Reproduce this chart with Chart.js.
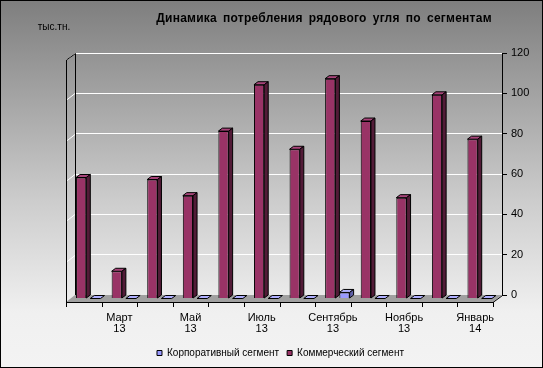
<!DOCTYPE html>
<html>
<head>
<meta charset="utf-8">
<script src="https://cdn.jsdelivr.net/npm/chart.js@4.4.1/dist/chart.umd.min.js"></script>
<style>
  html, body { margin: 0; padding: 0; background: #fff; }
  #wrap { width: 543px; height: 368px; }
</style>
</head>
<body>
<div id="wrap"><canvas id="coal" width="543" height="368"></canvas></div>
<script>
// ---- data ----
const categories = [
  ["Февраль", "13"], ["Март", "13"], ["Апрель", "13"], ["Май", "13"],
  ["Июнь", "13"], ["Июль", "13"], ["Август", "13"], ["Сентябрь", "13"],
  ["Октябрь", "13"], ["Ноябрь", "13"], ["Декабрь", "13"], ["Январь", "14"]
];
const corporate = [0, 0, 0, 0, 0, 0, 0, 3, 0, 0, 0, 0];
const commercial = [60, 13.5, 59, 51, 83, 106, 74, 109, 88, 50, 101, 79];
const yTicks = [0, 20, 40, 60, 80, 100, 120];

const FONT = "'Liberation Sans', Arial, sans-serif";
const WALL_DX = 9, WALL_DY = 7;     // depth of the 3d walls
const BAR_DX = 4, BAR_DY = 3;       // depth of each column
const faces = {
  "#993366": { top: "#a8447a", side: "#521b37" },
  "#9999ff": { top: "#b0b0ff", side: "#5f5fa8" }
};

// background, walls, floor and the 3d faces of the columns
const excel3d = {
  id: "excel3d",
  beforeDraw(chart) {
    const { ctx, width, height } = chart;
    const g = ctx.createLinearGradient(0, 0, 0, height);
    g.addColorStop(0, "#7e7e7e");
    g.addColorStop(0.55, "#cdcdcd");
    g.addColorStop(0.85, "#f0f0f0");
    g.addColorStop(1, "#f3f3f3");
    ctx.save();
    ctx.fillStyle = g;
    ctx.fillRect(0, 0, width, height);
    ctx.restore();
  },
  beforeDatasetsDraw(chart) {
    const { ctx, chartArea: a, scales } = chart;
    const y = scales.y;
    ctx.save();
    // grid lines on the left wall
    ctx.strokeStyle = "#ffffff";
    ctx.lineWidth = 1;
    yTicks.forEach(v => {
      const py = Math.round(y.getPixelForValue(v)) + 0.5;
      ctx.beginPath();
      ctx.moveTo(a.left, py);
      ctx.lineTo(a.left - WALL_DX, py + WALL_DY);
      ctx.stroke();
    });
    // floor
    const fb = a.bottom + WALL_DY;
    ctx.fillStyle = "#a0a0a0";
    ctx.beginPath();
    ctx.moveTo(a.left - WALL_DX, fb);
    ctx.lineTo(a.right - WALL_DX, fb);
    ctx.lineTo(a.right, a.bottom);
    ctx.lineTo(a.left, a.bottom);
    ctx.closePath();
    ctx.fill();
    ctx.strokeStyle = "#000";
    ctx.beginPath();
    ctx.moveTo(a.left - WALL_DX + 0.5, fb + 0.5);
    ctx.lineTo(a.right - WALL_DX, fb + 0.5);
    ctx.lineTo(a.right + 0.5, a.bottom + 0.5);
    ctx.stroke();
    // left wall edges
    ctx.beginPath();
    ctx.moveTo(a.left - WALL_DX + 0.5, fb + 5);
    ctx.lineTo(a.left - WALL_DX + 0.5, a.top + WALL_DY);
    ctx.lineTo(a.left + 0.5, a.top + 0.5);
    ctx.lineTo(a.left + 0.5, a.bottom);
    ctx.stroke();
    // category tick marks on the front edge of the floor
    const n = categories.length;
    const step = (a.right - a.left) / n;
    for (let i = 0; i <= n; i++) {
      const px = Math.round(a.left + i * step - WALL_DX) + 0.5;
      ctx.beginPath();
      ctx.moveTo(px, fb);
      ctx.lineTo(px, fb + 5);
      ctx.stroke();
    }
    ctx.restore();
    // columns stand in the middle of the floor depth
    ctx.save();
    ctx.translate(-WALL_DX / 2, WALL_DY / 2);
  },
  afterDatasetsDraw(chart) {
    const { ctx } = chart;
    ctx.lineWidth = 1;
    ctx.strokeStyle = "#000";
    chart.data.datasets.forEach((ds, di) => {
      const f = faces[ds.backgroundColor];
      chart.getDatasetMeta(di).data.forEach(el => {
        const { x, y, base, width } = el.getProps(["x", "y", "base", "width"], true);
        const l = x - width / 2, r = x + width / 2;
        const t = Math.min(y, base), b = base;
        ctx.fillStyle = f.top;
        ctx.beginPath();
        ctx.moveTo(l, t);
        ctx.lineTo(l + BAR_DX, t - BAR_DY);
        ctx.lineTo(r + BAR_DX, t - BAR_DY);
        ctx.lineTo(r, t);
        ctx.closePath();
        ctx.fill();
        ctx.stroke();
        if (b - t > 0.5) {
          ctx.fillStyle = f.side;
          ctx.beginPath();
          ctx.moveTo(r, t);
          ctx.lineTo(r + BAR_DX, t - BAR_DY);
          ctx.lineTo(r + BAR_DX, b - BAR_DY);
          ctx.lineTo(r, b);
          ctx.closePath();
          ctx.fill();
          ctx.stroke();
        }
      });
    });
    ctx.restore();
  },
  afterDraw(chart) {
    const { ctx, width, height } = chart;
    ctx.save();
    ctx.fillStyle = "#000";
    ctx.textBaseline = "middle";
    ctx.textAlign = "center";
    ctx.font = "bold 12px " + FONT;
    ctx.letterSpacing = "0.25px";
    ctx.wordSpacing = "2.5px";
    ctx.fillText("Динамика потребления рядового угля по сегментам", 324, 19);
    ctx.letterSpacing = "0px";
    ctx.wordSpacing = "0px";
    ctx.font = "10px " + FONT;
    ctx.fillText("тыс.тн.", 54, 27);
    ctx.strokeStyle = "#000";
    ctx.lineWidth = 1;
    ctx.strokeRect(0.5, 0.5, width - 1, height - 1);
    ctx.restore();
  }
};

new Chart(document.getElementById("coal"), {
  type: "bar",
  data: {
    labels: categories,
    datasets: [
      {
        label: "Коммерческий сегмент",
        data: commercial,
        backgroundColor: "#993366",
        borderColor: "#000",
        borderWidth: 1,
        barPercentage: 0.72,
        categoryPercentage: 0.8,
        clip: false
      },
      {
        label: "Корпоративный сегмент",
        data: corporate,
        backgroundColor: "#9999ff",
        borderColor: "#000",
        borderWidth: 1,
        barPercentage: 0.72,
        categoryPercentage: 0.8,
        clip: false
      }
    ]
  },
  options: {
    responsive: false,
    animation: false,
    devicePixelRatio: 1,
    layout: { padding: { top: 53, left: 18, right: 0, bottom: 0 } },
    scales: {
      x: {
        grid: { display: false, drawTicks: false },
        border: { display: false },
        ticks: {
          autoSkip: false,
          maxRotation: 0,
          padding: 17,
          labelOffset: -WALL_DX,
          color: "#000",
          font: { family: FONT, size: 11, lineHeight: 1.0 },
          callback: (v, i) => (i % 2 === 1 ? categories[i] : "")
        },
        afterFit: s => { s.height = 45; }
      },
      y: {
        position: "right",
        min: 0,
        max: 120,
        afterBuildTicks: s => { s.ticks = yTicks.map(v => ({ value: v })); },
        grid: { color: "#ffffff", lineWidth: 1, tickColor: "#000", tickLength: 5 },
        border: { display: true, color: "#000", width: 1 },
        ticks: { padding: 4, color: "#000", font: { family: FONT, size: 11 } },
        afterFit: s => { s.width = 41; }
      },
      // empty spacer on the left, leaves room for the side wall
      side: {
        type: "linear",
        position: "left",
        grid: { display: false },
        border: { display: false },
        ticks: { display: false },
        afterFit: s => { s.width = 57; }
      }
    },
    plugins: {
      legend: {
        position: "bottom",
        reverse: true,
        maxHeight: 28,
        labels: {
          boxWidth: 5,
          boxHeight: 5,
          padding: 8,
          color: "#000",
          font: { family: FONT, size: 10 }
        }
      },
      tooltip: { enabled: false }
    }
  },
  plugins: [excel3d]
});
</script>
</body>
</html>
